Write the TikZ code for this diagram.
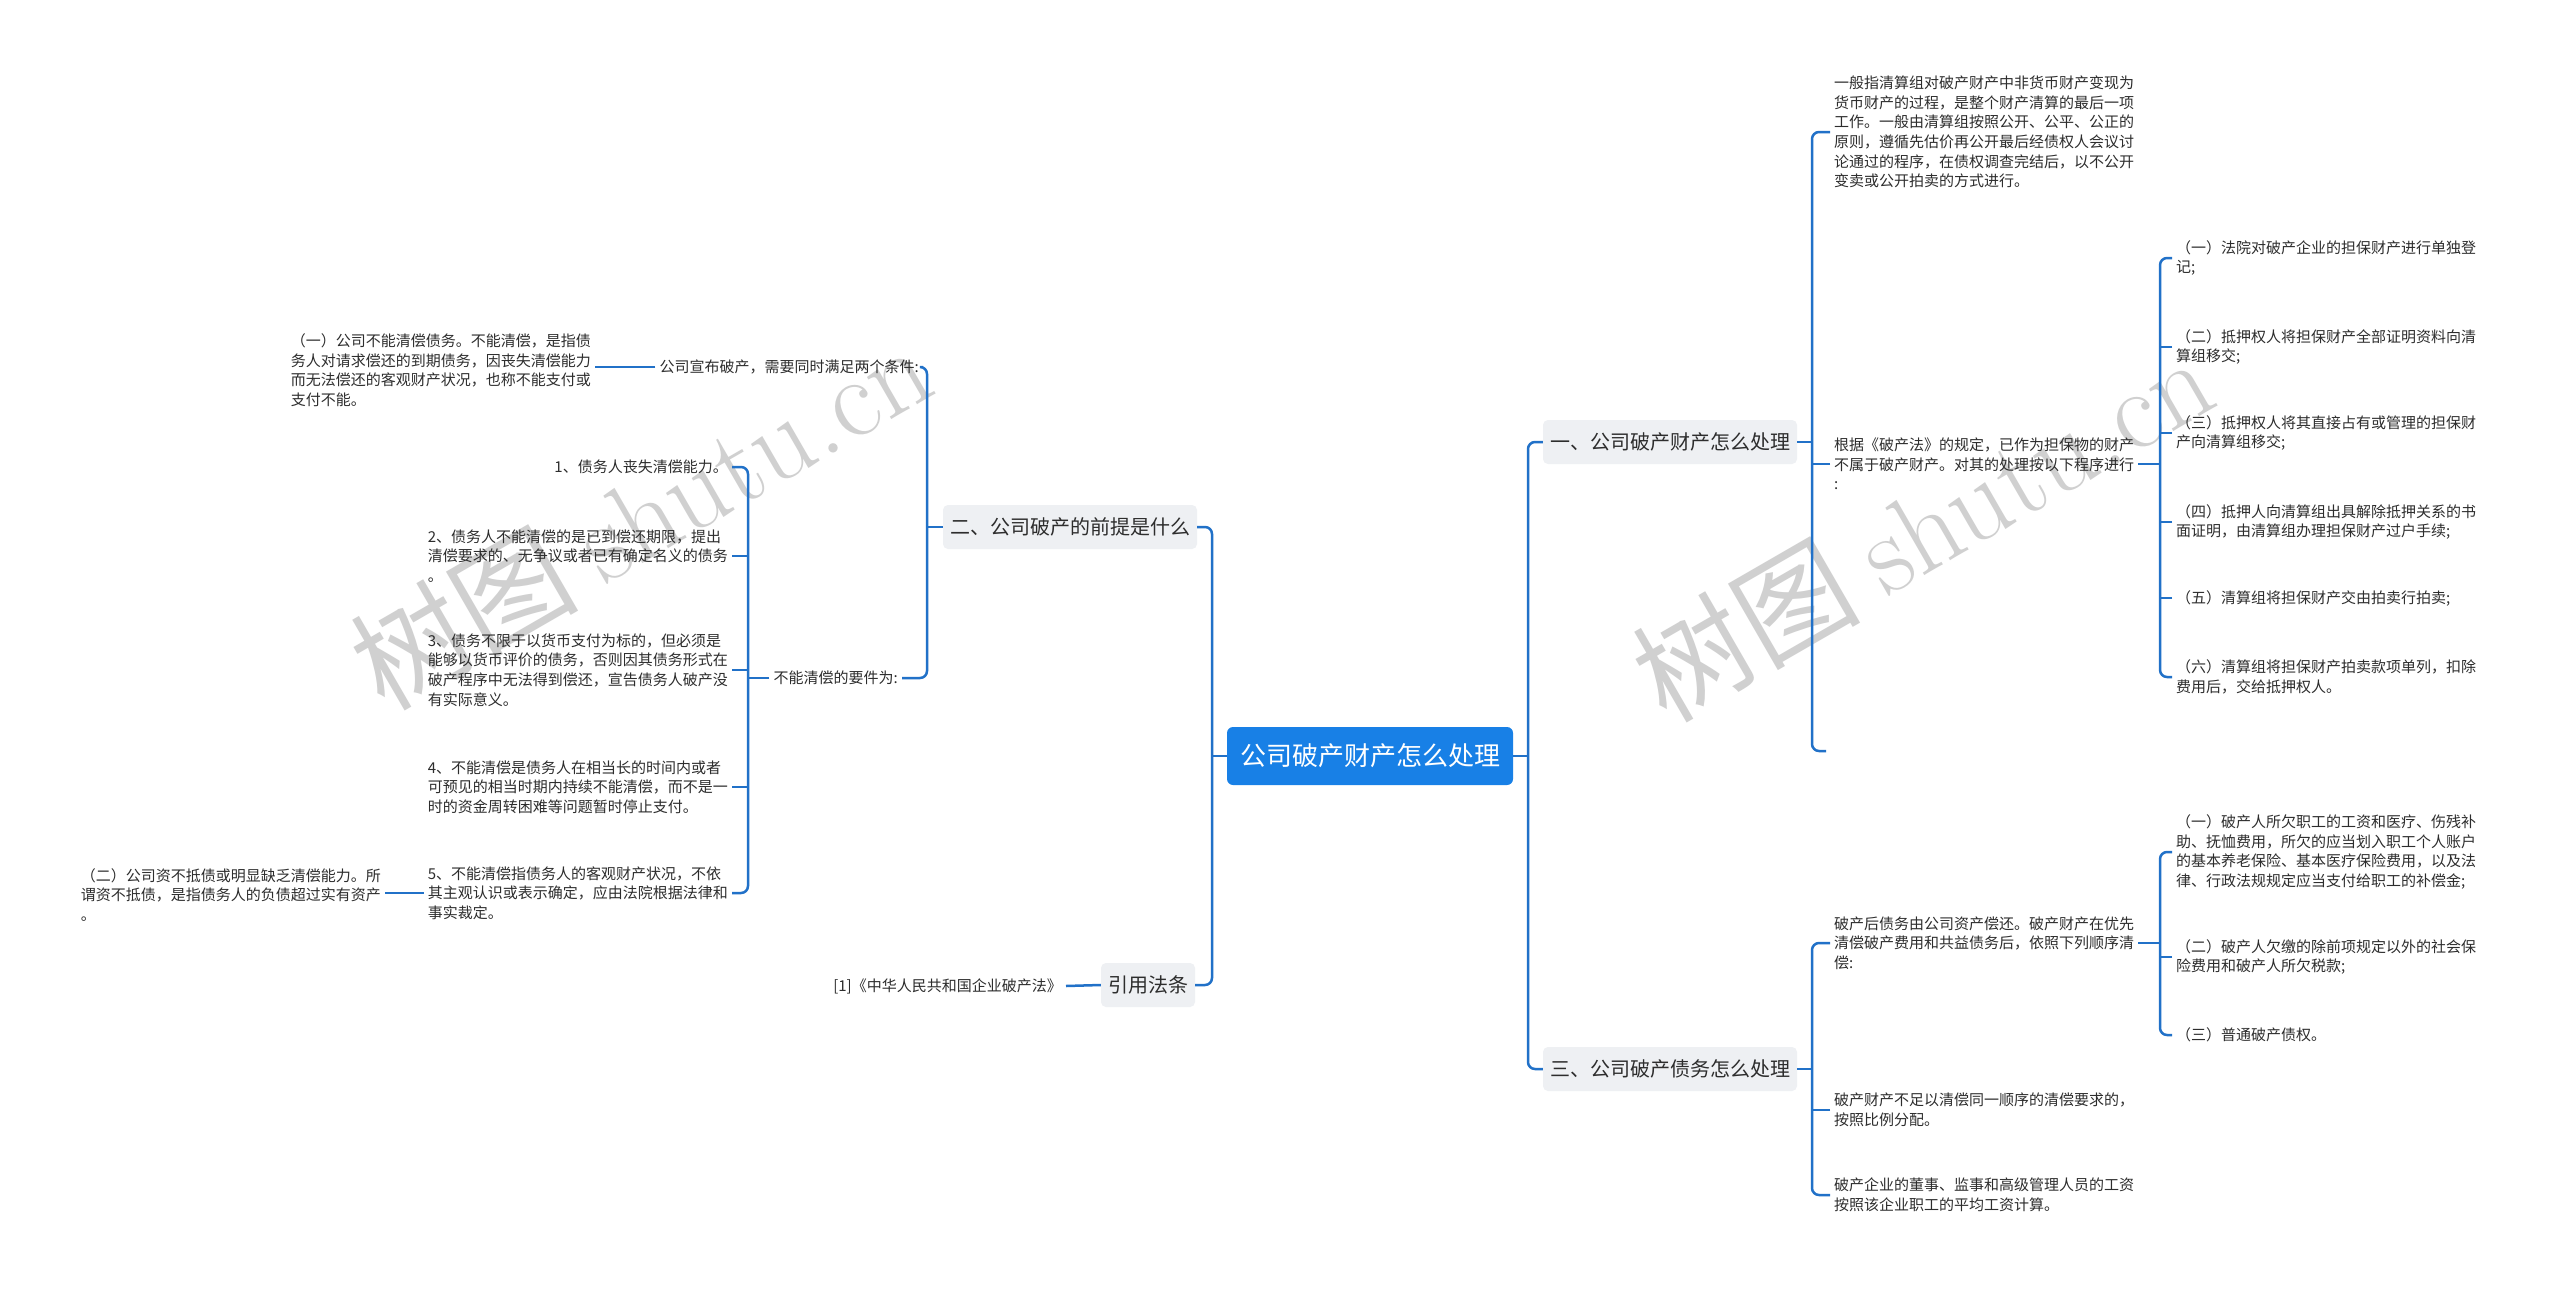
\documentclass[tikz,border=0pt]{standalone}
\usepackage{fontspec}
\setmainfont{Noto Sans CJK SC}
\newfontfamily\lmfont{Latin Modern Roman}
\usetikzlibrary{calc}
\definecolor{lineblue}{RGB}{33,113,200}
\definecolor{rootblue}{RGB}{24,128,230}
\definecolor{boxgray}{RGB}{238,240,243}
\definecolor{txt}{RGB}{45,45,45}
\definecolor{wm}{RGB}{208,208,208}
\tikzset{
  conn/.style={draw=lineblue, line width=2.5pt, rounded corners=7pt},
  small/.style={font=\fontsize{15}{19.6}\selectfont, text=txt, align=left, inner xsep=4pt, inner ysep=0pt},
  lvl/.style={fill=boxgray, rounded corners=5pt, font=\fontsize{20}{24}\selectfont, text=txt, minimum height=44pt, inner xsep=7pt},
  rootn/.style={fill=rootblue, rounded corners=6pt, text=white, font=\fontsize{26}{30}\selectfont, minimum height=58pt, minimum width=286pt},
  wmark/.style={rotate=30, text=wm, font=\fontsize{114}{114}\selectfont}
}
\begin{document}
\begin{tikzpicture}[x=1pt,y=-1pt]
\useasboundingbox (0,0) rectangle (2560,1290);
\fill[white] (0,0) rectangle (2560,1290);

% watermarks
\node[wmark] (wm1) at (640,515) {树图 {\lmfont shutu.cn}};
\node[wmark] (wm2) at (1922,527) {树图 {\lmfont shutu.cn}};

% helper x positions
\coordinate (vL) at (1212,0);
\coordinate (vR) at (1528,0);
\coordinate (vA) at (1812,0);
\coordinate (vB) at (2160,0);
\coordinate (vC) at (927,0);
\coordinate (vD) at (748,0);

% main nodes
\node[rootn] (root) at (1370,756) {公司破产财产怎么处理};
\node[lvl] (n2) at (1070,527) {二、公司破产的前提是什么};
\node[lvl] (law) at (1148,985) {引用法条};
\node[lvl] (n1) at (1670,442) {一、公司破产财产怎么处理};
\node[lvl] (n3) at (1670,1069) {三、公司破产债务怎么处理};

% right: branch one
\node[small, anchor=west] (p1) at (1830,132) {一般指清算组对破产财产中非货币财产变现为\\货币财产的过程，是整个财产清算的最后一项\\工作。一般由清算组按照公开、公平、公正的\\原则，遵循先估价再公开最后经债权人会议讨\\论通过的程序，在债权调查完结后，以不公开\\变卖或公开拍卖的方式进行。};
\node[small, anchor=west] (p2) at (1830,464) {根据《破产法》的规定，已作为担保物的财产\\不属于破产财产。对其的处理按以下程序进行\\:};
\coordinate (p3) at (1826,751);

\node[small, anchor=west] (s1) at (2172,258) {（一）法院对破产企业的担保财产进行单独登\\记;};
\node[small, anchor=west] (s2) at (2172,347) {（二）抵押权人将担保财产全部证明资料向清\\算组移交;};
\node[small, anchor=west] (s3) at (2172,433) {（三）抵押权人将其直接占有或管理的担保财\\产向清算组移交;};
\node[small, anchor=west] (s4) at (2172,522) {（四）抵押人向清算组出具解除抵押关系的书\\面证明，由清算组办理担保财产过户手续;};
\node[small, anchor=west] (s5) at (2172,598) {（五）清算组将担保财产交由拍卖行拍卖;};
\node[small, anchor=west] (s6) at (2172,677) {（六）清算组将担保财产拍卖款项单列，扣除\\费用后，交给抵押权人。};

% right: branch three
\node[small, anchor=west] (q1) at (1830,943) {破产后债务由公司资产偿还。破产财产在优先\\清偿破产费用和共益债务后，依照下列顺序清\\偿:};
\node[small, anchor=west] (q2) at (1830,1110) {破产财产不足以清偿同一顺序的清偿要求的，\\按照比例分配。};
\node[small, anchor=west] (q3) at (1830,1195) {破产企业的董事、监事和高级管理人员的工资\\按照该企业职工的平均工资计算。};

\node[small, anchor=west] (r1) at (2172,852) {（一）破产人所欠职工的工资和医疗、伤残补\\助、抚恤费用，所欠的应当划入职工个人账户\\的基本养老保险、基本医疗保险费用，以及法\\律、行政法规规定应当支付给职工的补偿金;};
\node[small, anchor=west] (r2) at (2172,957) {（二）破产人欠缴的除前项规定以外的社会保\\险费用和破产人所欠税款;};
\node[small, anchor=west] (r3) at (2172,1035) {（三）普通破产债权。};

% left: branch two
\node[small, anchor=east] (a1) at (923,367) {公司宣布破产，需要同时满足两个条件:};
\node[small, anchor=east] (a2) at (902,678) {不能清偿的要件为:};
\node[small, anchor=east] (b1) at (595,370) {（一）公司不能清偿债务。不能清偿，是指债\\务人对请求偿还的到期债务，因丧失清偿能力\\而无法偿还的客观财产状况，也称不能支付或\\支付不能。};

\node[small, anchor=east] (c1) at (732,467) {1、债务人丧失清偿能力。};
\node[small, anchor=east] (c2) at (732,556) {2、债务人不能清偿的是已到偿还期限，提出\\清偿要求的、无争议或者已有确定名义的债务\\。};
\node[small, anchor=east] (c3) at (732,670) {3、债务不限于以货币支付为标的，但必须是\\能够以货币评价的债务，否则因其债务形式在\\破产程序中无法得到偿还，宣告债务人破产没\\有实际意义。};
\node[small, anchor=east] (c4) at (732,787) {4、不能清偿是债务人在相当长的时间内或者\\可预见的相当时期内持续不能清偿，而不是一\\时的资金周转困难等问题暂时停止支付。};
\node[small, anchor=east] (c5) at (732,893) {5、不能清偿指债务人的客观财产状况，不依\\其主观认识或表示确定，应由法院根据法律和\\事实裁定。};
\node[small, anchor=east] (d1) at (385,895) {（二）公司资不抵债或明显缺乏清偿能力。所\\谓资不抵债，是指债务人的负债超过实有资产\\。};

\node[small, anchor=east] (lawt) at (1066,986) {[1]《中华人民共和国企业破产法》};

% connectors: root
\draw[conn] (root.west) -- (root.west -| vL);
\draw[conn] (n2.east) -- (n2.east -| vL) -- (law.east -| vL) -- (law.east);
\draw[conn] (root.east) -- (root.east -| vR);
\draw[conn] (n1.west) -- (n1.west -| vR) -- (n3.west -| vR) -- (n3.west);

% branch one
\draw[conn] (n1.east) -- (n1.east -| vA);
\draw[conn] (p1.west) -- (p1.west -| vA) -- (p3 -| vA) -- (p3);
\draw[conn] (p2.west) -- (p2.west -| vA);
\draw[conn] (p2.east) -- (p2.east -| vB);
\draw[conn] (s1.west) -- (s1.west -| vB) -- (s6.west -| vB) -- (s6.west);
\foreach \n in {s2,s3,s4,s5} \draw[conn] (\n.west) -- (\n.west -| vB);

% branch three
\draw[conn] (n3.east) -- (n3.east -| vA);
\draw[conn] (q1.west) -- (q1.west -| vA) -- (q3.west -| vA) -- (q3.west);
\draw[conn] (q2.west) -- (q2.west -| vA);
\draw[conn] (q1.east) -- (q1.east -| vB);
\draw[conn] (r1.west) -- (r1.west -| vB) -- (r3.west -| vB) -- (r3.west);
\draw[conn] (r2.west) -- (r2.west -| vB);

% branch two
\draw[conn] (n2.west) -- (n2.west -| vC);
\draw[conn] (a1.east) -- (a1.east -| vC) -- (a2.east -| vC) -- (a2.east);
\draw[conn] (a1.west) -- (a1.west -| b1.east);
\draw[conn] (a2.west) -- (a2.west -| vD);
\draw[conn] (c1.east) -- (c1.east -| vD) -- (c5.east -| vD) -- (c5.east);
\foreach \n in {c2,c3,c4} \draw[conn] (\n.east) -- (\n.east -| vD);
\draw[conn] (c5.west) -- (c5.west -| d1.east);

% citations
\draw[conn] (law.west) -- (lawt.east);
\end{tikzpicture}
\end{document}
